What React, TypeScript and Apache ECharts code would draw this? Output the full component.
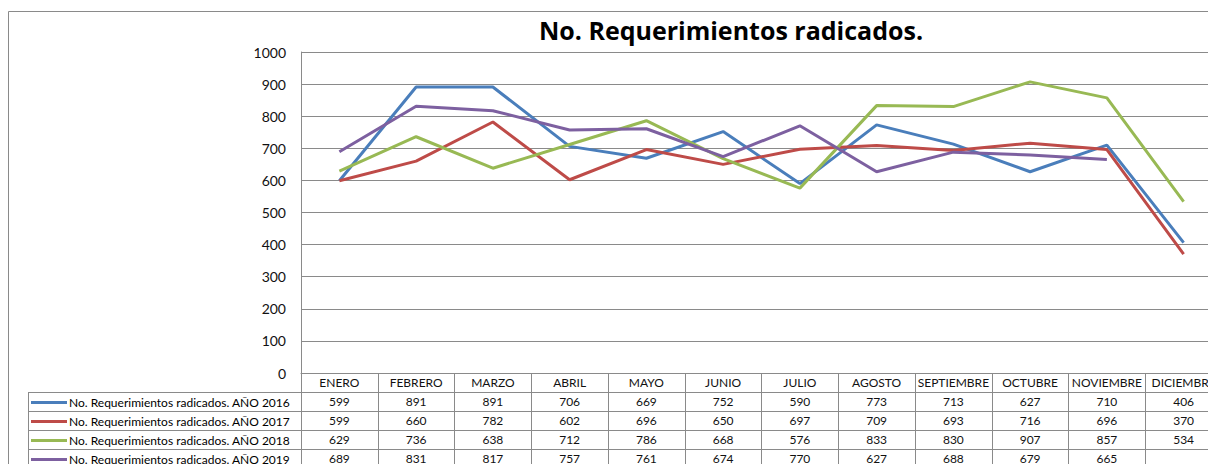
import React, { useEffect, useRef } from "react";
import * as echarts from "echarts";

const title = "No. Requerimientos radicados.";
const months = ["ENERO", "FEBRERO", "MARZO", "ABRIL", "MAYO", "JUNIO", "JULIO", "AGOSTO", "SEPTIEMBRE", "OCTUBRE", "NOVIEMBRE", "DICIEMBRE"];
const seriesNames = [
  "No. Requerimientos radicados. AÑO 2016",
  "No. Requerimientos radicados. AÑO 2017",
  "No. Requerimientos radicados. AÑO 2018",
  "No. Requerimientos radicados. AÑO 2019",
];
const y2016 = [599, 891, 891, 706, 669, 752, 590, 773, 713, 627, 710, 406];
const y2017 = [599, 660, 782, 602, 696, 650, 697, 709, 693, 716, 696, 370];
const y2018 = [629, 736, 638, 712, 786, 668, 576, 833, 830, 907, 857, 534];
const y2019 = [689, 831, 817, 757, 761, 674, 770, 627, 688, 679, 665, null];
const colors = ["#4A7EBB", "#BE4B48", "#98B954", "#7D60A0"];

const FONT = "Lato";

export default function App() {
  const ref = useRef<HTMLDivElement>(null);
  useEffect(() => {
    if (!ref.current) return;
    const chart = echarts.init(ref.current, null, { renderer: "svg" });
    const all = [y2016, y2017, y2018, y2019];
    const gridLeft = 301;
    const gridTop = 52;
    const gridW = 921;
    const gridH = 321;
    const rowH = 19;
    const axisY = gridTop + gridH;
    const tableLeft = 28;
    const tableRight = gridLeft + gridW;
    const lineColor = "#8a8a8a";
    const hLines: any[] = [];
    for (let i = 1; i <= 4; i++) {
      const y = axisY + rowH * i + 0.5;
      hLines.push({
        type: "line",
        shape: { x1: tableLeft, y1: y, x2: tableRight, y2: y },
        style: { stroke: lineColor, lineWidth: 1 },
        silent: true,
      });
    }
    const legends = seriesNames.map((name, i) => ({
      orient: "horizontal",
      left: 31,
      top: axisY + rowH * (i + 1) + 1,
      itemWidth: 36,
      itemHeight: 3,
      itemGap: 0,
      icon: "rect",
      selectedMode: false,
      padding: 0,
      textStyle: { fontFamily: FONT, fontSize: 12, color: "#000", lineHeight: rowH, height: rowH, padding: [0, 0, 0, -3] },
      data: [name],
    }));
    chart.setOption({
      animation: false,
      textStyle: { fontFamily: FONT },
      title: {
        text: title,
        left: 726,
        top: 12,
        textAlign: "center",
        textStyle: { fontFamily: "Open Sans", fontSize: 25, fontWeight: "bold", color: "#000" },
      },
      grid: { left: gridLeft, top: gridTop, width: gridW, height: gridH, containLabel: false, outerBoundsMode: "none" },
      legend: legends,
      xAxis: {
        type: "category",
        data: months,
        boundaryGap: true,
        axisLine: { show: true, lineStyle: { color: lineColor, width: 1 } },
        axisTick: { show: true, length: rowH * 5, lineStyle: { color: lineColor, width: 1 } },
        axisLabel: {
          interval: 0,
          margin: 0,
          fontFamily: FONT,
          fontSize: 12,
          color: "#111",
          lineHeight: rowH,
          formatter: (v: string, idx: number) => {
            const lines = [v];
            all.forEach((arr) => lines.push(arr[idx] == null ? " " : String(arr[idx])));
            return lines.join("\n");
          },
        },
      },
      yAxis: {
        type: "value",
        min: 0,
        max: 1000,
        interval: 100,
        axisLine: { show: true, lineStyle: { color: lineColor, width: 1 } },
        axisTick: { show: false },
        axisLabel: { fontFamily: FONT, fontSize: 14, color: "#111", margin: 15, formatter: (v: number) => String(v) },
        splitLine: { show: true, lineStyle: { color: lineColor, width: 1 } },
      },
      graphic: [
        {
          type: "rect",
          shape: { x: 8.5, y: 11.5, width: 1400, height: 600 },
          style: { fill: "none", stroke: lineColor, lineWidth: 1 },
          silent: true,
          z: -1,
        },
        {
          type: "line",
          shape: { x1: tableLeft + 0.5, y1: axisY + rowH, x2: tableLeft + 0.5, y2: 470 },
          style: { stroke: lineColor, lineWidth: 1 },
          silent: true,
        },
        ...hLines,
      ],
      series: all.map((arr, i) => ({
        name: seriesNames[i],
        type: "line",
        data: arr,
        symbol: "none",
        connectNulls: false,
        lineStyle: { color: colors[i], width: 3 },
        itemStyle: { color: colors[i] },
      })),
    });
    return () => chart.dispose();
  }, []);
  return <div ref={ref} style={{ position: "absolute", left: 0, top: 0, width: 1208, height: 464 }} />;
}
